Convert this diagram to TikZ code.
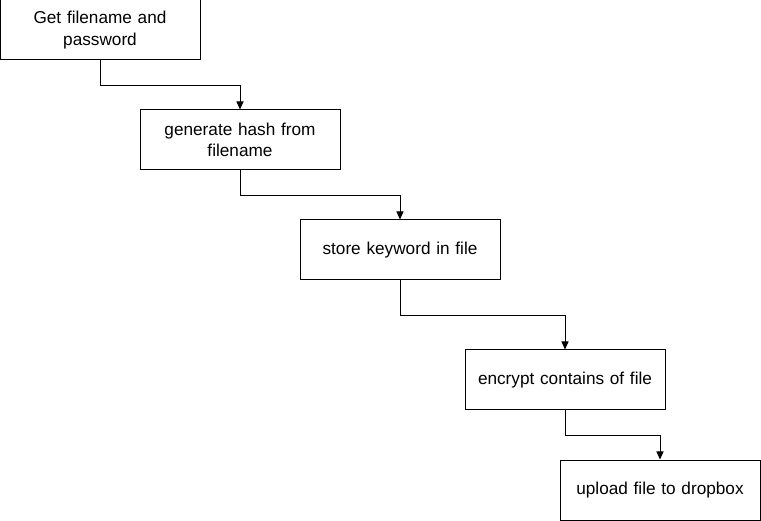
\documentclass[tikz,border=0pt]{standalone}
\usepackage{fontspec}
\setmainfont{Liberation Sans}
\usetikzlibrary{arrows.meta}
\begin{document}
\begin{tikzpicture}[x=1pt,y=-1pt,
  stepbox/.style={draw=black,line width=1pt,fill=white,minimum width=200pt,minimum height=60pt,
    inner sep=0pt,align=center,text width=190pt,font=\fontsize{17.2}{21.5}\selectfont},
  conn/.style={draw=black,line width=1pt,-{Triangle[length=8pt,width=7pt]}}]
\useasboundingbox (0,0) rectangle (761,521);
\node[stepbox] (a) at (100,30) {Get filename and\\password};
\node[stepbox] (b) at (240,140) {generate hash from\\filename};
\node[stepbox] (c) at (400,250) {store keyword in file};
\node[stepbox] (d) at (565,380) {encrypt contains of file};
\node[stepbox] (e) at (660,490) {upload file to dropbox};
\draw[conn] (a.south) -- ++(0,25) -| (b.north);
\draw[conn] (b.south) -- ++(0,25) -| (c.north);
\draw[conn] (c.south) -- ++(0,35) -| (d.north);
\draw[conn] (d.south) -- ++(0,25) -| (e.north);
\end{tikzpicture}
\end{document}
